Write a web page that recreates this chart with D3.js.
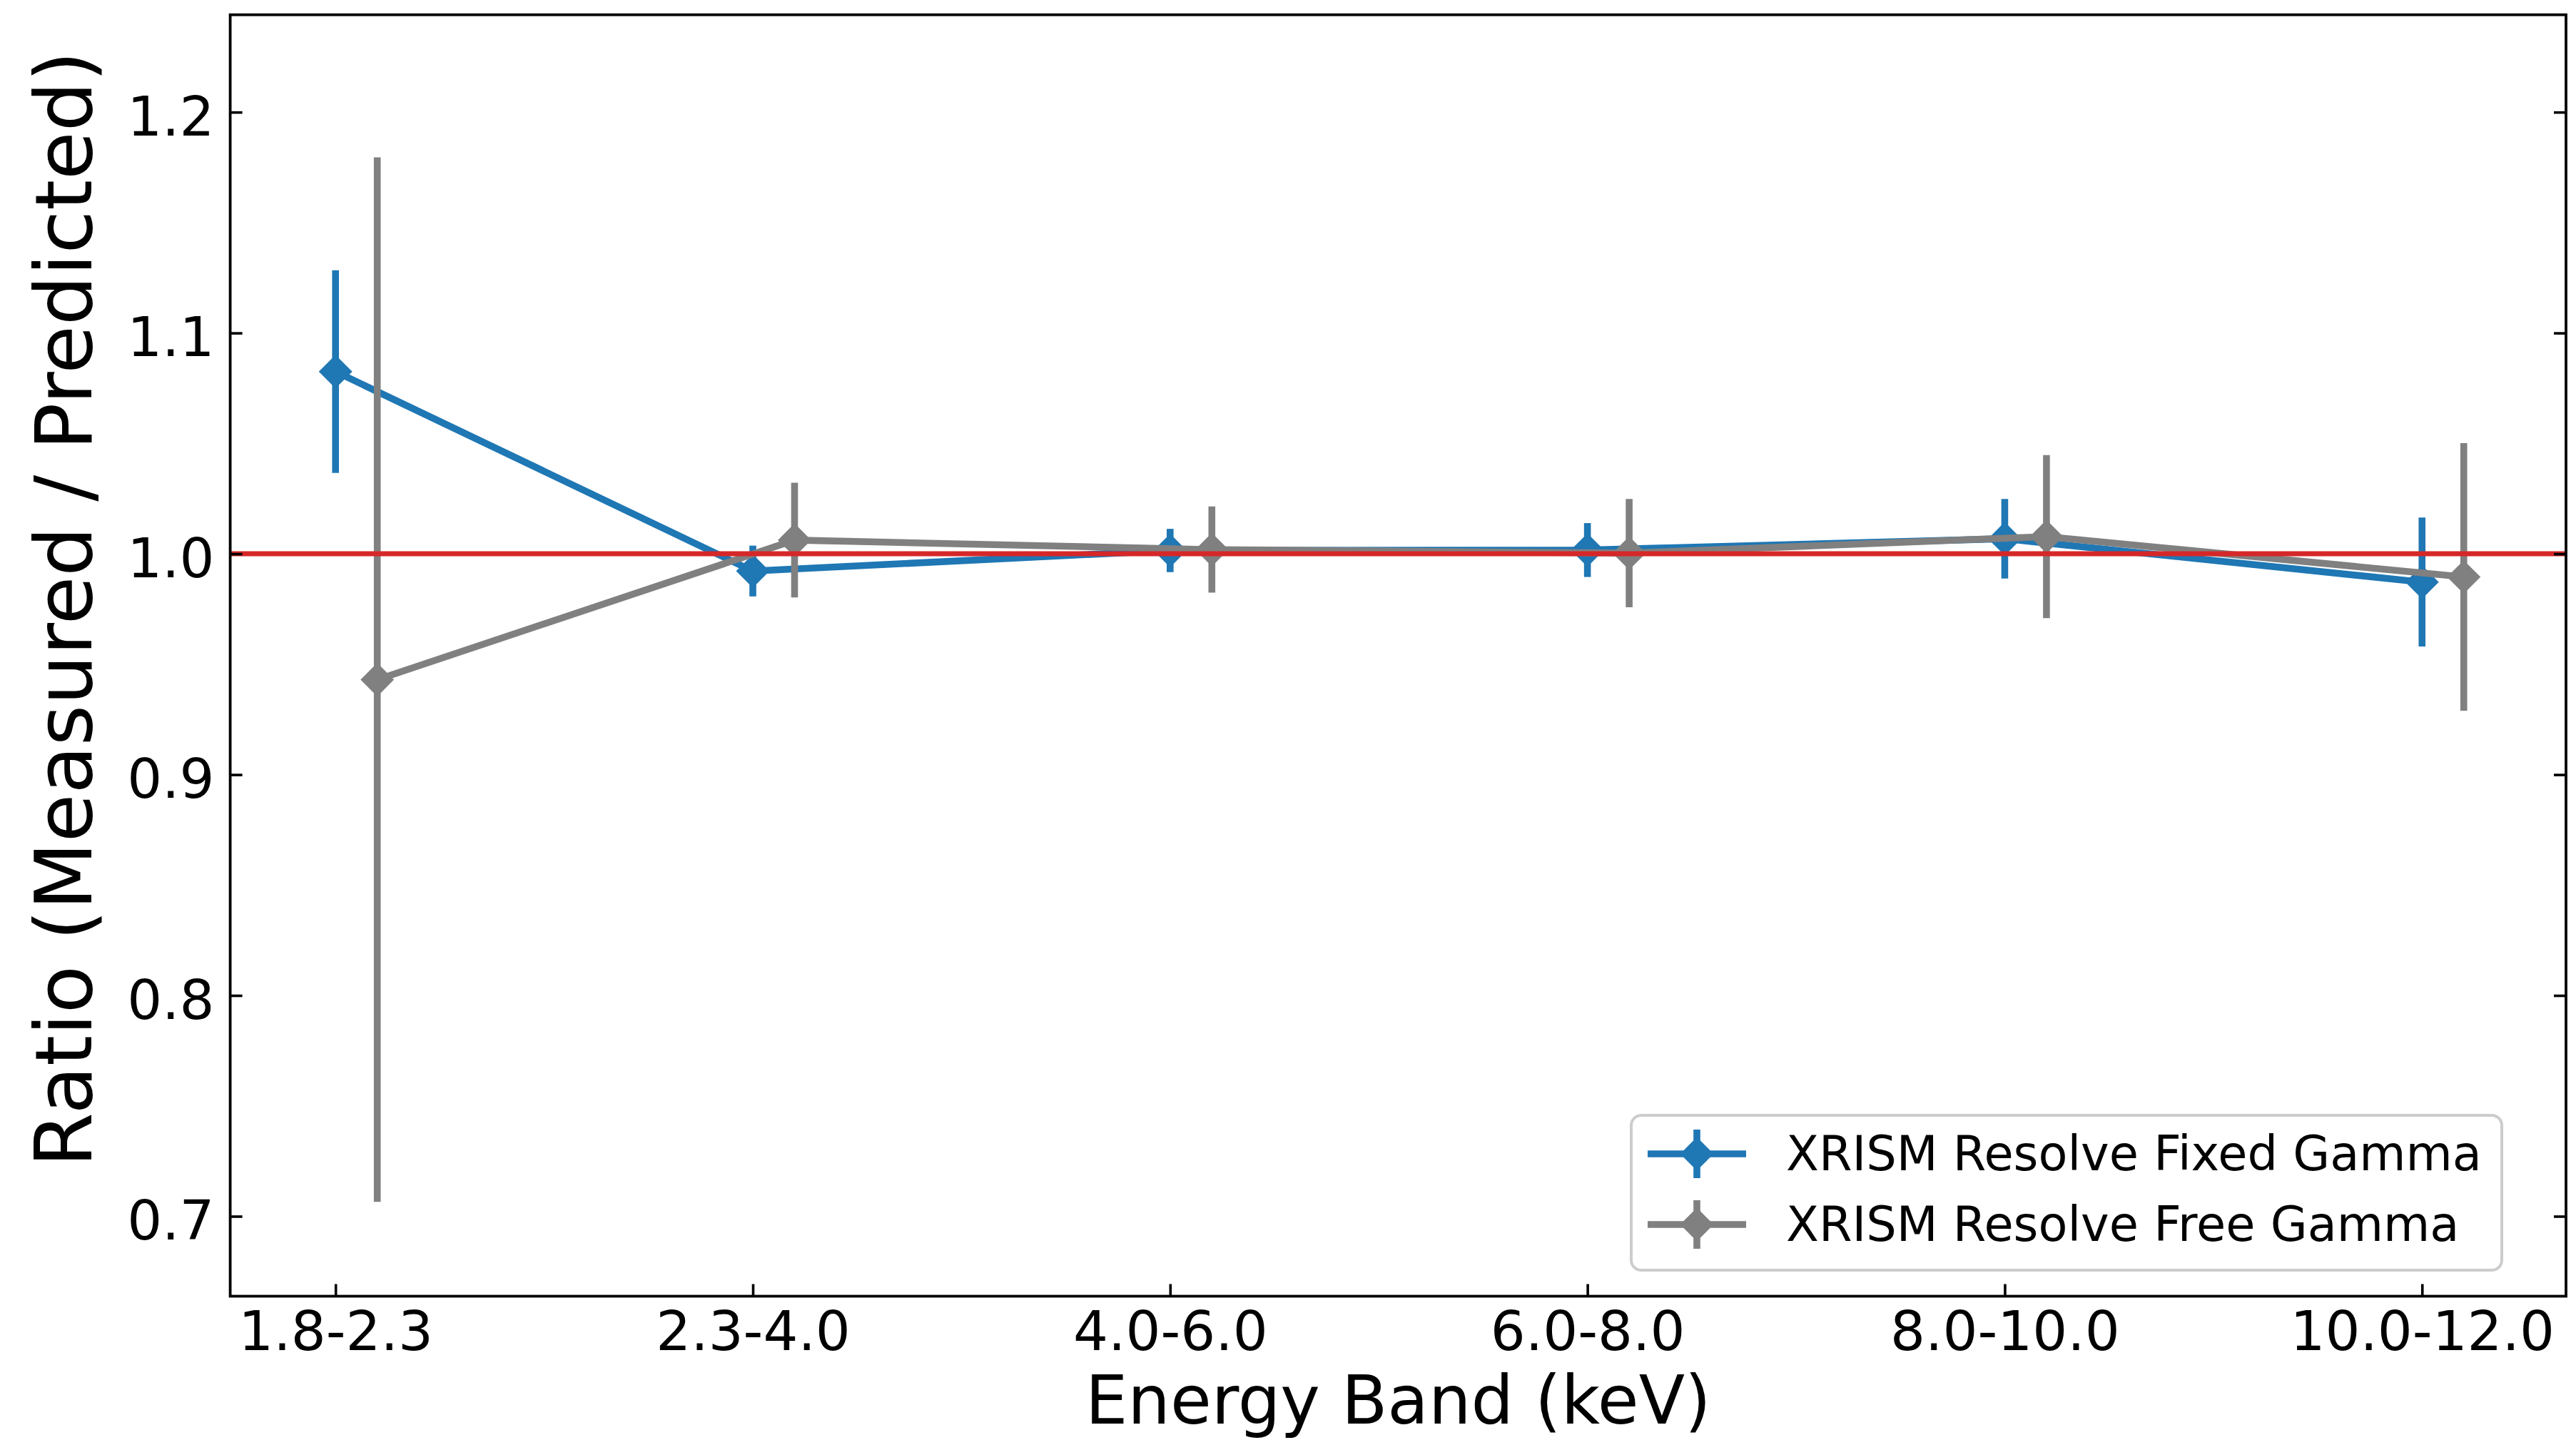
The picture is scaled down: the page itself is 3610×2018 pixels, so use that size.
<!DOCTYPE html>
<html><head><meta charset="utf-8">
<script src="https://cdn.jsdelivr.net/npm/d3@7"></script>
<style>body{margin:0;background:#fff} text{font-family:"DejaVu Sans",sans-serif}</style>
</head><body><svg id="c" width="3610" height="2018"></svg>
<script>
const categories = ["1.8-2.3","2.3-4.0","4.0-6.0","6.0-8.0","8.0-10.0","10.0-12.0"];
const fixedRatio = [1.0825,0.9922,1.0015,1.0017,1.0068,0.9872];
const fixedErr   = [0.0459,0.0115,0.0098,0.0122,0.0180,0.0292];
const freeRatio  = [0.9430,1.0062,1.0019,1.0003,1.0078,0.9895];
const freeErr    = [0.2365,0.0260,0.0195,0.0245,0.0369,0.0606];
const freeOffset = 0.1;
const yTicks = [0.7,0.8,0.9,1.0,1.1,1.2];
const seriesNames = ["XRISM Resolve Fixed Gamma","XRISM Resolve Free Gamma"];
const referenceValue = 1.0;

const W=3610,H=2018;
const L=322.6,R=3596,T=20.7,B=1816.5;
const svg=d3.select("#c");
svg.append("rect").attr("width",W).attr("height",H).attr("fill","#fff");

const x=d3.scaleLinear().domain([-0.2524,5.345]).range([L,R]);
const y=d3.scaleLinear().domain([0.6638,1.2441]).range([B,T]);

const series=[
  {name:seriesNames[0],color:"#1f77b4",vals:fixedRatio,errs:fixedErr,off:0},
  {name:seriesNames[1],color:"#808080",vals:freeRatio,errs:freeErr,off:freeOffset}
];
const LW=9.6, MS=1100;
const diamond=d3.symbol(d3.symbolSquare,MS);

const plot=svg.append("g");
series.forEach(s=>{
  const g=plot.append("g");
  const pts=s.vals.map((v,i)=>({xv:i+s.off,v,e:s.errs[i]}));
  g.selectAll("line.err").data(pts).enter().append("line")
    .attr("x1",d=>x(d.xv)).attr("x2",d=>x(d.xv))
    .attr("y1",d=>y(d.v-d.e)).attr("y2",d=>y(d.v+d.e))
    .attr("stroke",s.color).attr("stroke-width",LW);
  g.append("path").datum(pts)
    .attr("d",d3.line().x(d=>x(d.xv)).y(d=>y(d.v)))
    .attr("fill","none").attr("stroke",s.color).attr("stroke-width",LW)
    .attr("stroke-linejoin","round");
  g.selectAll("path.m").data(pts).enter().append("path")
    .attr("d",diamond)
    .attr("transform",d=>`translate(${x(d.xv)},${y(d.v)}) rotate(45)`)
    .attr("fill",s.color);
});
plot.append("line").attr("x1",L).attr("x2",R)
  .attr("y1",y(referenceValue)).attr("y2",y(referenceValue))
  .attr("stroke","#d62728").attr("stroke-width",7);

// axes
const tickFont=77;
const gx=svg.append("g").attr("transform",`translate(0,${B})`)
  .call(d3.axisBottom(x).tickValues(d3.range(categories.length)).tickFormat(i=>categories[i]).tickSize(-17).tickPadding(21));
const gy=svg.append("g").attr("transform",`translate(${L},0)`)
  .call(d3.axisLeft(y).tickValues(yTicks).tickFormat(d3.format(".1f")).tickSize(-17).tickPadding(22));
const gr=svg.append("g").attr("transform",`translate(${R},0)`)
  .call(d3.axisRight(y).tickValues(yTicks).tickFormat("").tickSize(-17));
[gx,gy,gr].forEach(g=>{
  g.select(".domain").remove();
  g.selectAll(".tick line").attr("stroke","#000").attr("stroke-width",3.6);
  g.selectAll(".tick text").attr("font-size",tickFont).attr("fill","#000")
   .attr("font-family","DejaVu Sans");
});
gy.selectAll(".tick text").attr("dy","0.42em");
svg.append("rect").attr("x",L).attr("y",T).attr("width",R-L).attr("height",B-T)
  .attr("fill","none").attr("stroke","#000").attr("stroke-width",3.8);

svg.append("text").attr("x",(L+R)/2).attr("y",1995).attr("text-anchor","middle")
  .attr("font-size",94).text("Energy Band (keV)");
svg.append("text").attr("transform","translate(128,853.5) rotate(-90)").attr("text-anchor","middle")
  .attr("font-size",110).text("Ratio (Measured / Predicted)");

// legend
const lg=svg.append("g");
lg.append("rect").attr("x",2286).attr("y",1563).attr("width",1220).attr("height",217).attr("rx",14)
  .attr("fill","#fff").attr("fill-opacity",0.8).attr("stroke","#cccccc").attr("stroke-width",4);
series.forEach((s,k)=>{
  const cy=1617+k*99;
  lg.append("line").attr("x1",2378).attr("x2",2378).attr("y1",cy-34).attr("y2",cy+34)
    .attr("stroke",s.color).attr("stroke-width",LW);
  lg.append("line").attr("x1",2309).attr("x2",2447).attr("y1",cy).attr("y2",cy)
    .attr("stroke",s.color).attr("stroke-width",LW);
  lg.append("path").attr("d",diamond).attr("transform",`translate(2378,${cy}) rotate(45)`).attr("fill",s.color);
  lg.append("text").attr("x",2503).attr("y",cy+23).attr("font-size",67).text(s.name);
});
</script></body></html>
